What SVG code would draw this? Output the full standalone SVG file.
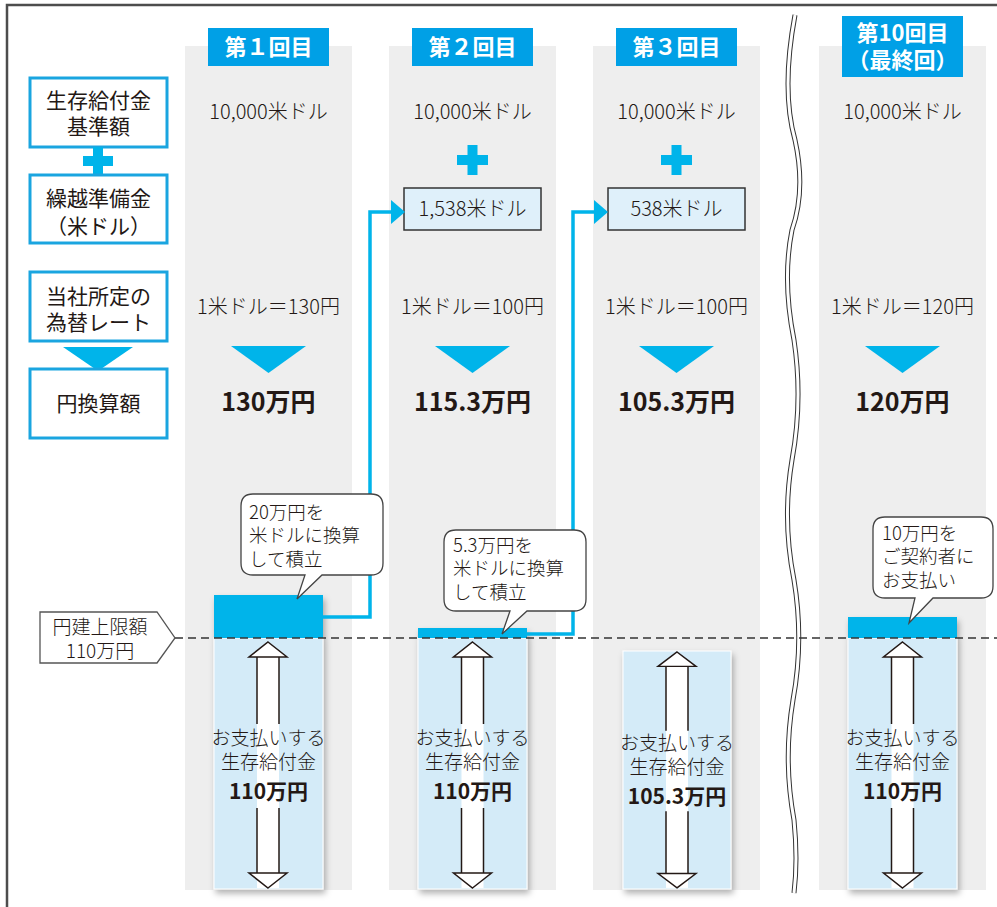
<svg xmlns="http://www.w3.org/2000/svg" width="997" height="907" viewBox="0 0 997 907">
<style>
text{font-family:"Noto Sans CJK JP","Noto Sans",sans-serif;fill:#231815}
.t{font-size:20px;font-weight:300;text-anchor:middle}
.p{font-size:19px;font-weight:300;text-anchor:middle}
.lb{font-size:21px;text-anchor:middle}
.hd{font-size:22px;font-weight:bold;fill:#fff;text-anchor:middle}
.big{font-size:25px;font-weight:bold;text-anchor:middle}
.mid{font-size:21px;font-weight:bold;text-anchor:middle}
.co{font-size:18.5px;font-weight:300}
.colbg{fill:#eeeeee}
.hbox{fill:#00a0e6}
.lbox{fill:#fff;stroke:#1aa5e0;stroke-width:3}
.cy{fill:#00b4ea}
.light{fill:#d4ebf8;stroke:#fff;stroke-width:1}
.callout{fill:#fff;stroke:#444;stroke-width:1.3}
.conn{fill:none;stroke:#00b4ea;stroke-width:3.5}
.dbl{fill:#fff;stroke:#231815;stroke-width:1.5}
</style>
<defs>
<filter id="sh" x="-20%" y="-5%" width="140%" height="115%">
<feDropShadow dx="2" dy="4" stdDeviation="3" flood-color="#000" flood-opacity="0.3"/>
</filter>
<g id="darrow">
<rect x="-11" y="14" width="22" height="232" fill="#fff"/>
<line x1="-11" y1="14" x2="-11" y2="82" stroke="#231815" stroke-width="1.5"/>
<line x1="11" y1="14" x2="11" y2="82" stroke="#231815" stroke-width="1.5"/>
<line x1="-11" y1="166" x2="-11" y2="231" stroke="#231815" stroke-width="1.5"/>
<line x1="11" y1="166" x2="11" y2="231" stroke="#231815" stroke-width="1.5"/>
<polygon points="0,0 19,15 11,15 -11,15 -19,15" class="dbl"/>
<polygon points="0,246 19,231 -19,231" class="dbl"/>
</g>
</defs>
<rect width="997" height="907" fill="#fff"/>
<!-- frame -->
<path d="M7,907 V5 H997" fill="none" stroke="#4d4d4d" stroke-width="2.5"/>

<!-- column backgrounds -->
<rect class="colbg" x="185" y="46" width="167" height="844"/>
<rect class="colbg" x="389" y="46" width="167" height="844"/>
<rect class="colbg" x="593" y="46" width="167" height="844"/>
<rect class="colbg" x="819" y="46" width="167" height="844"/>

<!-- wavy break -->
<g id="break">
<path d="M795,15 Q781,90 795,140 Q806,190 792,230 Q782,280 794,340 Q803,400 792,460 Q782,520 794,580 Q804,640 793,700 Q783,760 794,820 Q798,860 794,893" fill="none" stroke="#333" stroke-width="5"/>
<path d="M795,15 Q781,90 795,140 Q806,190 792,230 Q782,280 794,340 Q803,400 792,460 Q782,520 794,580 Q804,640 793,700 Q783,760 794,820 Q798,860 794,893" fill="none" stroke="#fff" stroke-width="3"/>
</g>

<!-- headers -->
<g id="h1"><rect class="hbox" x="208" y="28" width="121" height="38"/><text class="hd" x="268.5" y="55">第１回目</text></g>
<g id="h2"><rect class="hbox" x="412" y="28" width="121" height="38"/><text class="hd" x="472.5" y="55">第２回目</text></g>
<g id="h3"><rect class="hbox" x="616" y="28" width="121" height="38"/><text class="hd" x="676.5" y="55">第３回目</text></g>
<g id="h4"><rect class="hbox" x="842" y="16" width="121" height="61"/><text class="hd" x="902.5" y="41">第10回目</text><text class="hd" x="902.5" y="68">（最終回）</text></g>

<!-- left labels -->
<g id="lbl1"><rect class="lbox" x="30" y="78" width="137" height="69"/><text class="lb" x="98.5" y="108">生存給付金</text><text class="lb" x="98.5" y="134">基準額</text></g>
<g id="plusL"><rect class="cy" x="83" y="156" width="30" height="10"/><rect class="cy" x="93" y="147" width="10" height="28"/></g>
<g id="lbl2"><rect class="lbox" x="30" y="175" width="137" height="68"/><text class="lb" x="98.5" y="206">繰越準備金</text><text class="lb" x="98.5" y="234">（米ドル）</text></g>
<g id="lbl3"><rect class="lbox" x="30" y="272" width="137" height="69"/><text class="lb" x="98.5" y="304">当社所定の</text><text class="lb" x="98.5" y="330">為替レート</text></g>
<g id="triL"><polygon class="cy" points="63,347 133,347 98,371"/></g>
<g id="lbl4"><rect class="lbox" x="30" y="369" width="137" height="69"/><text class="lb" x="98.5" y="411">円換算額</text></g>

<!-- column contents -->
<g id="c1">
<text class="t" x="268.5" y="119">10,000米ドル</text>
<text class="t" x="268.5" y="314">1米ドル＝130円</text>
<polygon class="cy" points="231,346 306,346 268.5,373"/>
<text class="big" x="268.5" y="411">130万円</text>
</g>
<g id="c2">
<text class="t" x="472.5" y="119">10,000米ドル</text>
<rect class="cy" x="457" y="155" width="31" height="10"/><rect class="cy" x="467.5" y="145" width="10" height="30"/>
<rect x="404" y="188" width="137" height="42" fill="#dff0fa" stroke="#333" stroke-width="1.5"/>
<text class="t" x="472.5" y="216">1,538米ドル</text>
<text class="t" x="472.5" y="314">1米ドル＝100円</text>
<polygon class="cy" points="435,346 510,346 472.5,373"/>
<text class="big" x="472.5" y="411">115.3万円</text>
</g>
<g id="c3">
<text class="t" x="676.5" y="119">10,000米ドル</text>
<rect class="cy" x="661" y="155" width="31" height="10"/><rect class="cy" x="671.5" y="145" width="10" height="30"/>
<rect x="608" y="188" width="137" height="42" fill="#dff0fa" stroke="#333" stroke-width="1.5"/>
<text class="t" x="676.5" y="216">538米ドル</text>
<text class="t" x="676.5" y="314">1米ドル＝100円</text>
<polygon class="cy" points="639,346 714,346 676.5,373"/>
<text class="big" x="676.5" y="411">105.3万円</text>
</g>
<g id="c4">
<text class="t" x="902.5" y="119">10,000米ドル</text>
<text class="t" x="902.5" y="314">1米ドル＝120円</text>
<polygon class="cy" points="865,346 940,346 902.5,373"/>
<text class="big" x="902.5" y="411">120万円</text>
</g>

<!-- bars -->
<g id="bar1" filter="url(#sh)"><rect class="light" x="214" y="638" width="109" height="251"/><rect class="cy" x="214" y="595" width="109" height="43"/></g>
<g id="bar2" filter="url(#sh)"><rect class="light" x="418" y="638" width="109" height="251"/><rect class="cy" x="418" y="628" width="109" height="10"/></g>
<g id="bar3" filter="url(#sh)"><rect class="light" x="623" y="651" width="108" height="238"/></g>
<g id="bar4" filter="url(#sh)"><rect class="light" x="848" y="638" width="109" height="251"/><rect class="cy" x="848" y="617" width="109" height="21"/></g>

<!-- connectors -->
<g id="connectors">
<path class="conn" d="M323,617 H370 V212 H393"/>
<polygon class="cy" points="391,200 405,212 391,224"/>
<path class="conn" d="M527,634 H573 V212 H596"/>
<polygon class="cy" points="594,200 608,212 594,224"/>
</g>

<!-- limit line -->
<g id="limit">
<line x1="175" y1="638" x2="997" y2="638" stroke="#333" stroke-width="1.3" stroke-dasharray="8,5"/>
<polygon points="40,612 157,612 175,638 157,663 40,663" fill="#fff" stroke="#555" stroke-width="1.3"/>
<text class="p" x="100" y="634">円建上限額</text>
<text class="p" x="100" y="658">110万円</text>
</g>

<!-- double arrows and texts -->
<g id="pay1"><use href="#darrow" transform="translate(268,642)"/>
<text class="p" x="268.5" y="745">お支払いする</text><text class="p" x="268.5" y="769">生存給付金</text><text class="mid" x="268.5" y="799">110万円</text></g>
<g id="pay2"><use href="#darrow" transform="translate(472.5,642)"/>
<text class="p" x="472.5" y="745">お支払いする</text><text class="p" x="472.5" y="769">生存給付金</text><text class="mid" x="472.5" y="799">110万円</text></g>
<g id="pay3"><use href="#darrow" transform="translate(677,652) scale(1,0.959)"/>
<text class="p" x="677" y="750">お支払いする</text><text class="p" x="677" y="774">生存給付金</text><text class="mid" x="677" y="804">105.3万円</text></g>
<g id="pay4"><use href="#darrow" transform="translate(902.5,642)"/>
<text class="p" x="902.5" y="745">お支払いする</text><text class="p" x="902.5" y="769">生存給付金</text><text class="mid" x="902.5" y="799">110万円</text></g>

<!-- callouts -->
<g id="callout1">
<path class="callout" d="M253,494 H371 Q383,494 383,506 V563 Q383,575 371,575 H322 L297,599 L305,575 H253 Q241,575 241,563 V506 Q241,494 253,494 Z"/>
<text class="co" x="249" y="519">20万円を</text><text class="co" x="249" y="542">米ドルに換算</text><text class="co" x="249" y="566">して積立</text>
</g>
<g id="callout2">
<path class="callout" d="M456,530 H574 Q586,530 586,542 V599 Q586,611 574,611 H527 L502,634 L510,611 H456 Q444,611 444,599 V542 Q444,530 456,530 Z"/>
<text class="co" x="453" y="552">5.3万円を</text><text class="co" x="453" y="575">米ドルに換算</text><text class="co" x="453" y="599">して積立</text>
</g>
<g id="callout3">
<path class="callout" d="M885,517 H981 Q993,517 993,529 V586 Q993,598 981,598 H933 L909,623 L915,598 H885 Q873,598 873,586 V529 Q873,517 885,517 Z"/>
<text class="co" x="882" y="540">10万円を</text><text class="co" x="882" y="563">ご契約者に</text><text class="co" x="882" y="587">お支払い</text>
</g>
</svg>
